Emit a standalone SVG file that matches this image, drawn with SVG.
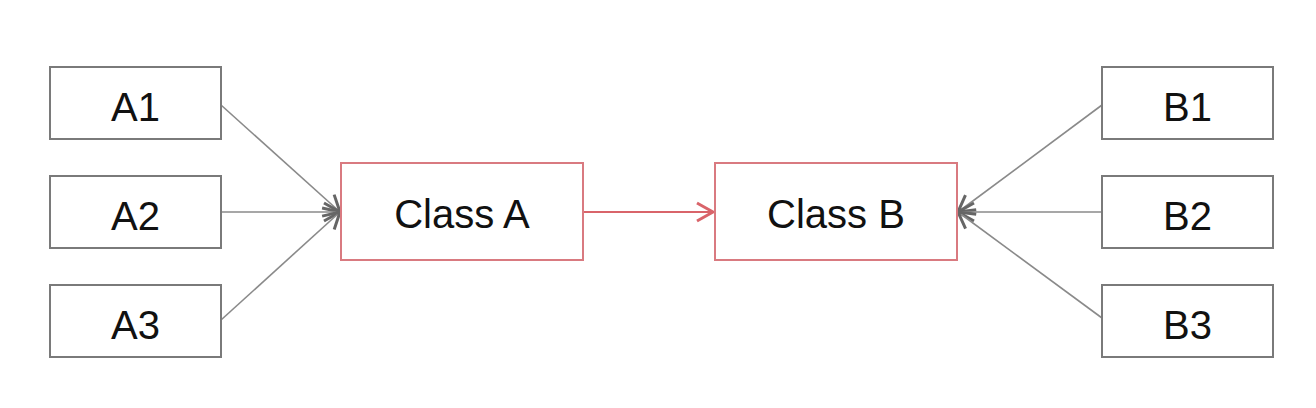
<svg xmlns="http://www.w3.org/2000/svg" width="1316" height="408" viewBox="0 0 1316 408">
<defs>
<style>
.box{fill:#fff;stroke:#7a7a7a;stroke-width:2}
.cls{fill:#fff;stroke:#d97a80;stroke-width:2}
text{font-family:"Liberation Sans",Arial,sans-serif;font-size:40px;fill:#111;text-anchor:middle}
.edge{stroke:#8a8a8a;stroke-width:1.6;fill:none}
.redge{stroke:#d9646a;stroke-width:2;fill:none}
</style>
<marker id="ag" viewBox="0 0 24 24" refX="21" refY="12" markerWidth="24" markerHeight="24" markerUnits="userSpaceOnUse" orient="auto">
<path d="M5,3 L21,12 L5,21" fill="none" stroke="#666" stroke-width="3"/>
</marker>
<marker id="ar" viewBox="0 0 24 24" refX="21" refY="12" markerWidth="24" markerHeight="24" markerUnits="userSpaceOnUse" orient="auto">
<path d="M5,3 L21,12 L5,21" fill="none" stroke="#d9646a" stroke-width="3"/>
</marker>
</defs>
<rect width="1316" height="408" fill="#fff"/>
<g id="connectors">
<line class="edge" x1="221" y1="105" x2="340" y2="212" marker-end="url(#ag)"/>
<line class="edge" x1="221" y1="212" x2="340" y2="212" marker-end="url(#ag)"/>
<line class="edge" x1="221" y1="320" x2="340" y2="212" marker-end="url(#ag)"/>
<line class="redge" x1="583" y1="212" x2="713" y2="212" marker-end="url(#ar)"/>
<line class="edge" x1="1102" y1="105" x2="958" y2="212" marker-end="url(#ag)"/>
<line class="edge" x1="1102" y1="212" x2="958" y2="212" marker-end="url(#ag)"/>
<line class="edge" x1="1102" y1="318" x2="958" y2="212" marker-end="url(#ag)"/>
</g>
<g id="A1"><rect class="box" x="50" y="67" width="171" height="72"/><text x="135.5" y="121">A1</text></g>
<g id="A2"><rect class="box" x="50" y="176" width="171" height="72"/><text x="135.5" y="230">A2</text></g>
<g id="A3"><rect class="box" x="50" y="285" width="171" height="72"/><text x="135.5" y="339">A3</text></g>
<g id="ClassA"><rect class="cls" x="341" y="163" width="242" height="97"/><text x="462" y="228">Class A</text></g>
<g id="ClassB"><rect class="cls" x="715" y="163" width="242" height="97"/><text x="836" y="228">Class B</text></g>
<g id="B1"><rect class="box" x="1102" y="67" width="171" height="72"/><text x="1187.5" y="121">B1</text></g>
<g id="B2"><rect class="box" x="1102" y="176" width="171" height="72"/><text x="1187.5" y="230">B2</text></g>
<g id="B3"><rect class="box" x="1102" y="285" width="171" height="72"/><text x="1187.5" y="339">B3</text></g>
</svg>
